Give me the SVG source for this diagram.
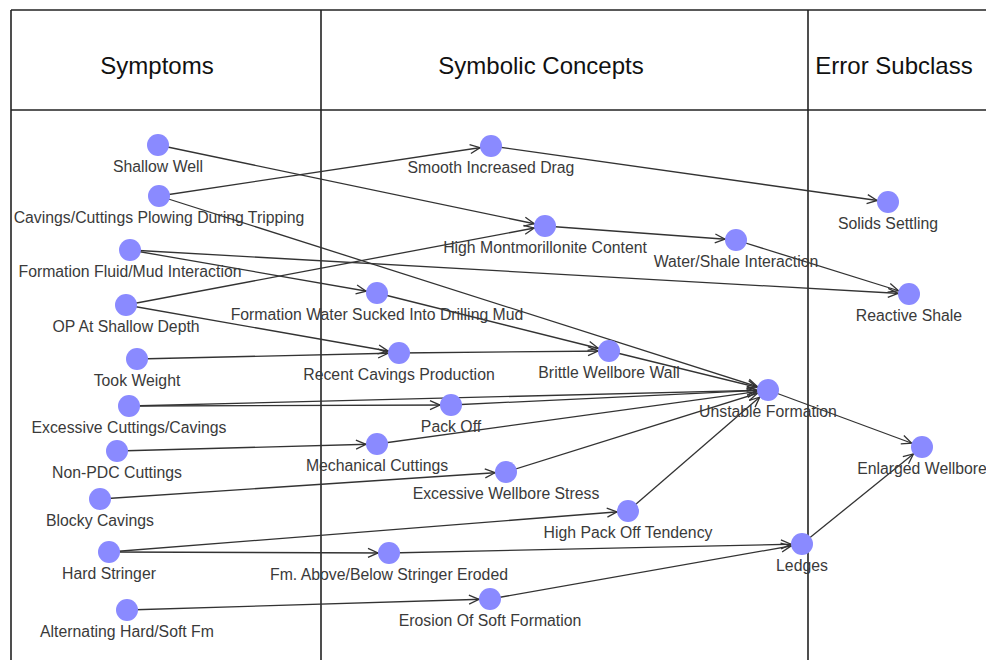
<svg xmlns="http://www.w3.org/2000/svg" width="986" height="660" viewBox="0 0 986 660">
<style>
.grid{stroke:#222;stroke-width:1.6;fill:none}
.hdr{font-family:"Liberation Sans",Arial,sans-serif;font-size:24px;fill:#111;text-anchor:middle}
.edge{stroke:#333;stroke-width:1.3;fill:none;marker-end:url(#arr)}
.node circle{fill:#8a8aff;stroke:none}
.node text{font-family:"Liberation Sans",Arial,sans-serif;font-size:15.8px;fill:#3a3a3a;text-anchor:middle}
</style>
<defs>
<marker id="arr" markerUnits="userSpaceOnUse" markerWidth="30" markerHeight="12" refX="21" refY="4.5" orient="auto" overflow="visible">
<path d="M0,0 L10,4.5 L0,9" fill="none" stroke="#333" stroke-width="1.3"/>
</marker>
</defs>
<rect width="986" height="660" fill="#fff"/>
<g id="table">
<line class="grid" x1="11" y1="10" x2="986" y2="10"/>
<line class="grid" x1="11" y1="110" x2="986" y2="110"/>
<line class="grid" x1="11" y1="10" x2="11" y2="660"/>
<line class="grid" x1="321" y1="10" x2="321" y2="660"/>
<line class="grid" x1="808" y1="10" x2="808" y2="660"/>
<text class="hdr" x="157" y="74">Symptoms</text>
<text class="hdr" x="541" y="74">Symbolic Concepts</text>
<text class="hdr" x="894" y="74">Error Subclass</text>
</g>
<g id="connectors">
<line class="edge" x1="158" y1="145" x2="545" y2="226"/>
<line class="edge" x1="159" y1="196" x2="491" y2="146"/>
<line class="edge" x1="159" y1="196" x2="768" y2="390"/>
<line class="edge" x1="491" y1="146" x2="888" y2="202"/>
<line class="edge" x1="130" y1="250" x2="909" y2="294"/>
<line class="edge" x1="130" y1="250" x2="377" y2="293"/>
<line class="edge" x1="126" y1="305" x2="545" y2="226"/>
<line class="edge" x1="126" y1="305" x2="399" y2="353"/>
<line class="edge" x1="545" y1="226" x2="736" y2="240"/>
<line class="edge" x1="736" y1="240" x2="909" y2="294"/>
<line class="edge" x1="377" y1="293" x2="609" y2="351"/>
<line class="edge" x1="137" y1="359" x2="399" y2="353"/>
<line class="edge" x1="399" y1="353" x2="609" y2="351"/>
<line class="edge" x1="609" y1="351" x2="768" y2="390"/>
<line class="edge" x1="129" y1="406" x2="451" y2="405"/>
<line class="edge" x1="129" y1="406" x2="768" y2="390"/>
<line class="edge" x1="451" y1="405" x2="768" y2="390"/>
<line class="edge" x1="117" y1="451" x2="377" y2="444"/>
<line class="edge" x1="377" y1="444" x2="768" y2="390"/>
<line class="edge" x1="100" y1="499" x2="506" y2="472"/>
<line class="edge" x1="506" y1="472" x2="768" y2="390"/>
<line class="edge" x1="109" y1="552" x2="628" y2="511"/>
<line class="edge" x1="109" y1="552" x2="389" y2="553"/>
<line class="edge" x1="628" y1="511" x2="768" y2="390"/>
<line class="edge" x1="389" y1="553" x2="802" y2="544"/>
<line class="edge" x1="127" y1="610" x2="490" y2="599"/>
<line class="edge" x1="490" y1="599" x2="802" y2="544"/>
<line class="edge" x1="768" y1="390" x2="922" y2="447"/>
<line class="edge" x1="802" y1="544" x2="922" y2="447"/>
</g>
<g id="n-shallow-well" class="node"><circle cx="158" cy="145" r="11"/><text x="158" y="172">Shallow Well</text></g>
<g id="n-cavings-plowing" class="node"><circle cx="159" cy="196" r="11"/><text x="159" y="223">Cavings/Cuttings Plowing During Tripping</text></g>
<g id="n-formation-fluid" class="node"><circle cx="130" cy="250" r="11"/><text x="130" y="277">Formation Fluid/Mud Interaction</text></g>
<g id="n-op-shallow" class="node"><circle cx="126" cy="305" r="11"/><text x="126" y="332">OP At Shallow Depth</text></g>
<g id="n-took-weight" class="node"><circle cx="137" cy="359" r="11"/><text x="137" y="386">Took Weight</text></g>
<g id="n-excessive-cuttings" class="node"><circle cx="129" cy="406" r="11"/><text x="129" y="433">Excessive Cuttings/Cavings</text></g>
<g id="n-non-pdc" class="node"><circle cx="117" cy="451" r="11"/><text x="117" y="478">Non-PDC Cuttings</text></g>
<g id="n-blocky" class="node"><circle cx="100" cy="499" r="11"/><text x="100" y="526">Blocky Cavings</text></g>
<g id="n-hard-stringer" class="node"><circle cx="109" cy="552" r="11"/><text x="109" y="579">Hard Stringer</text></g>
<g id="n-alternating" class="node"><circle cx="127" cy="610" r="11"/><text x="127" y="637">Alternating Hard/Soft Fm</text></g>
<g id="n-smooth-drag" class="node"><circle cx="491" cy="146" r="11"/><text x="491" y="173">Smooth Increased Drag</text></g>
<g id="n-high-mont" class="node"><circle cx="545" cy="226" r="11"/><text x="545" y="253">High Montmorillonite Content</text></g>
<g id="n-water-shale" class="node"><circle cx="736" cy="240" r="11"/><text x="736" y="267">Water/Shale Interaction</text></g>
<g id="n-formation-water" class="node"><circle cx="377" cy="293" r="11"/><text x="377" y="320">Formation Water Sucked Into Drilling Mud</text></g>
<g id="n-recent-cavings" class="node"><circle cx="399" cy="353" r="11"/><text x="399" y="380">Recent Cavings Production</text></g>
<g id="n-brittle" class="node"><circle cx="609" cy="351" r="11"/><text x="609" y="378">Brittle Wellbore Wall</text></g>
<g id="n-unstable" class="node"><circle cx="768" cy="390" r="11"/><text x="768" y="417">Unstable Formation</text></g>
<g id="n-pack-off" class="node"><circle cx="451" cy="405" r="11"/><text x="451" y="432">Pack Off</text></g>
<g id="n-mechanical" class="node"><circle cx="377" cy="444" r="11"/><text x="377" y="471">Mechanical Cuttings</text></g>
<g id="n-exc-stress" class="node"><circle cx="506" cy="472" r="11"/><text x="506" y="499">Excessive Wellbore Stress</text></g>
<g id="n-high-packoff" class="node"><circle cx="628" cy="511" r="11"/><text x="628" y="538">High Pack Off Tendency</text></g>
<g id="n-fm-above" class="node"><circle cx="389" cy="553" r="11"/><text x="389" y="580">Fm. Above/Below Stringer Eroded</text></g>
<g id="n-erosion" class="node"><circle cx="490" cy="599" r="11"/><text x="490" y="626">Erosion Of Soft Formation</text></g>
<g id="n-ledges" class="node"><circle cx="802" cy="544" r="11"/><text x="802" y="571">Ledges</text></g>
<g id="n-solids" class="node"><circle cx="888" cy="202" r="11"/><text x="888" y="229">Solids Settling</text></g>
<g id="n-reactive" class="node"><circle cx="909" cy="294" r="11"/><text x="909" y="321">Reactive Shale</text></g>
<g id="n-enlarged" class="node"><circle cx="922" cy="447" r="11"/><text x="922" y="474">Enlarged Wellbore</text></g>
</svg>
